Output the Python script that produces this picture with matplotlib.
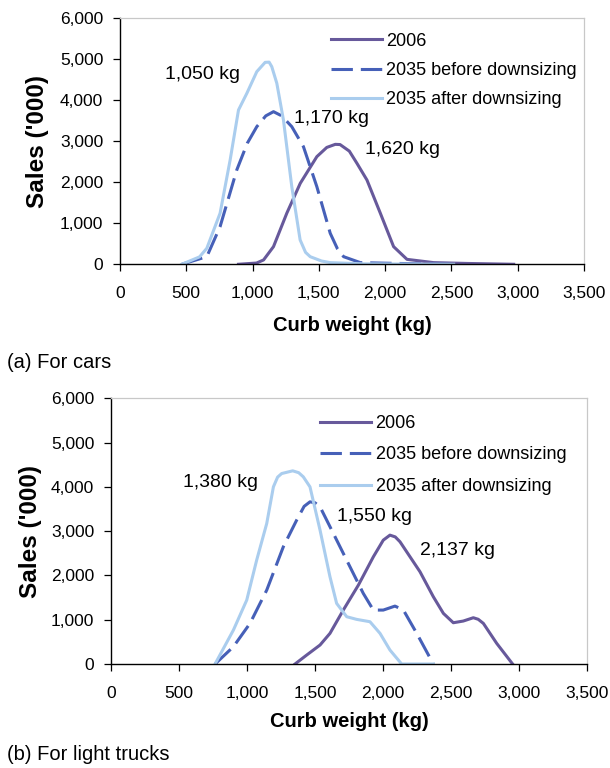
import matplotlib
matplotlib.use("Agg")
import matplotlib.pyplot as plt
from matplotlib.ticker import FuncFormatter

plt.rcParams['font.family'] = ['Liberation Sans', 'DejaVu Sans']

# Colours
C_2006 = '#67599b'
C_BEFORE = '#4660b8'
C_AFTER = '#aacdee'

# (a) cars
cars_2006_x = [894, 1030, 1083, 1158, 1259, 1360, 1485, 1560, 1624, 1660, 1730, 1788, 1863, 1964, 2064, 2165, 2366, 2620, 2970]
cars_2006_y = [0, 30, 105, 430, 1250, 1975, 2625, 2850, 2925, 2920, 2760, 2460, 2055, 1245, 430, 120, 40, 20, 0]
cars_before_x = [466, 655, 755, 881, 960, 1032, 1100, 1158, 1220, 1296, 1384, 1485, 1586, 1640, 1687, 1813, 2100, 2500]
cars_before_y = [0, 185, 917, 2300, 2950, 3356, 3620, 3722, 3620, 3356, 2868, 1893, 756, 380, 185, 40, 20, 0]
cars_after_x = [466, 600, 655, 755, 831, 894, 957, 1032, 1095, 1125, 1145, 1183, 1233, 1296, 1359, 1400, 1435, 1520, 1586, 1838, 2517]
cars_after_y = [0, 180, 390, 1244, 2544, 3763, 4170, 4698, 4925, 4930, 4820, 4415, 3520, 1893, 593, 290, 185, 80, 40, 10, 0]

# (b) light trucks
trucks_2006_x = [1353, 1439, 1537, 1610, 1708, 1819, 1929, 2002, 2051, 2090, 2125, 2272, 2370, 2444, 2517, 2590, 2664, 2700, 2738, 2836, 2953]
trucks_2006_y = [0, 203, 429, 692, 1218, 1782, 2421, 2797, 2910, 2870, 2760, 2083, 1519, 1143, 932, 970, 1045, 1010, 917, 466, 0]
trucks_before_x = [765, 900, 1022, 1145, 1267, 1365, 1420, 1463, 1500, 1537, 1635, 1757, 1855, 1929, 2002, 2088, 2150, 2248, 2370]
trucks_before_y = [0, 391, 917, 1669, 2647, 3249, 3560, 3662, 3640, 3549, 2948, 2196, 1594, 1218, 1218, 1308, 1218, 692, 0]
trucks_after_x = [765, 900, 998, 1071, 1145, 1194, 1225, 1255, 1336, 1380, 1414, 1463, 1537, 1610, 1659, 1733, 1806, 1904, 1978, 2051, 2137, 2370]
trucks_after_y = [0, 767, 1444, 2346, 3173, 4000, 4220, 4301, 4362, 4320, 4226, 4000, 3023, 1970, 1369, 1068, 1008, 955, 692, 316, 0, 0]

labels = ['2006', '2035 before downsizing', '2035 after downsizing']
cars_notes = [('1,050 kg', 340, 4617), ('1,170 kg', 1309, 3561), ('1,620 kg', 1850, 2788)]
trucks_notes = [('1,380 kg', 532, 4093), ('1,550 kg', 1659, 3325), ('2,137 kg', 2272, 2573)]

x_ticks = [0, 500, 1000, 1500, 2000, 2500, 3000, 3500]
y_ticks = [0, 1000, 2000, 3000, 4000, 5000, 6000]

fmt = FuncFormatter(lambda v, p: f'{int(v):,}')

fig = plt.figure(figsize=(6.1, 7.68), dpi=100)
ax1 = fig.add_axes([0.1967, 0.6559, 0.7606, 0.3203])
ax2 = fig.add_axes([0.1820, 0.1354, 0.7803, 0.3460])


def draw(ax, data, notes, xpad, ypad, legend_anchor, spacing):
    (x06, y06), (xb, yb), (xa, ya) = data
    ax.plot(x06, y06, color=C_2006, lw=2.2, label=labels[0], solid_joinstyle='round')
    ax.plot(xb, yb, color=C_BEFORE, lw=2.2, dashes=(7, 2.6), label=labels[1])
    ax.plot(xa, ya, color=C_AFTER, lw=2.2, label=labels[2], solid_joinstyle='round')
    for txt, x, y in notes:
        ax.text(x, y, txt, fontsize=14, va='center', ha='left')
    ax.set_xlim(0, 3500)
    ax.set_ylim(0, 6000)
    ax.set_xticks(x_ticks)
    ax.set_yticks(y_ticks)
    ax.xaxis.set_major_formatter(fmt)
    ax.yaxis.set_major_formatter(fmt)
    ax.tick_params(axis='x', direction='out', length=5, width=0.9, pad=11, labelsize=12.5)
    ax.tick_params(axis='y', direction='out', length=5, width=0.9, pad=7, labelsize=12.5)
    for s in ['top', 'right']:
        ax.spines[s].set_color('#c8c8c8')
        ax.spines[s].set_linewidth(0.9)
    for s in ['left', 'bottom']:
        ax.spines[s].set_linewidth(1.0)
    ax.set_xlabel('Curb weight (kg)', fontsize=14.5, fontweight='bold', labelpad=xpad)
    ax.set_ylabel("Sales ('000)", fontsize=17.5, fontweight='bold', labelpad=ypad)
    ax.legend(loc='upper left', bbox_to_anchor=legend_anchor, frameon=False, fontsize=13,
              handlelength=2.8, handletextpad=0.25, labelspacing=spacing, borderpad=0,
              borderaxespad=0)


draw(ax1, [(cars_2006_x, cars_2006_y), (cars_before_x, cars_before_y), (cars_after_x, cars_after_y)],
     cars_notes, 10.5, 8, (0.455, 0.942), 0.68)
draw(ax2, [(trucks_2006_x, trucks_2006_y), (trucks_before_x, trucks_before_y), (trucks_after_x, trucks_after_y)],
     trucks_notes, 7.5, 6.5, (0.44, 0.937), 0.8)

fig.text(0.011, 1 - 363 / 768, '(a) For cars', fontsize=14.5, va='center', ha='left')
fig.text(0.011, 1 - 755 / 768, '(b) For light trucks', fontsize=14.5, va='center', ha='left')

fig.savefig('out.png', dpi=100)
